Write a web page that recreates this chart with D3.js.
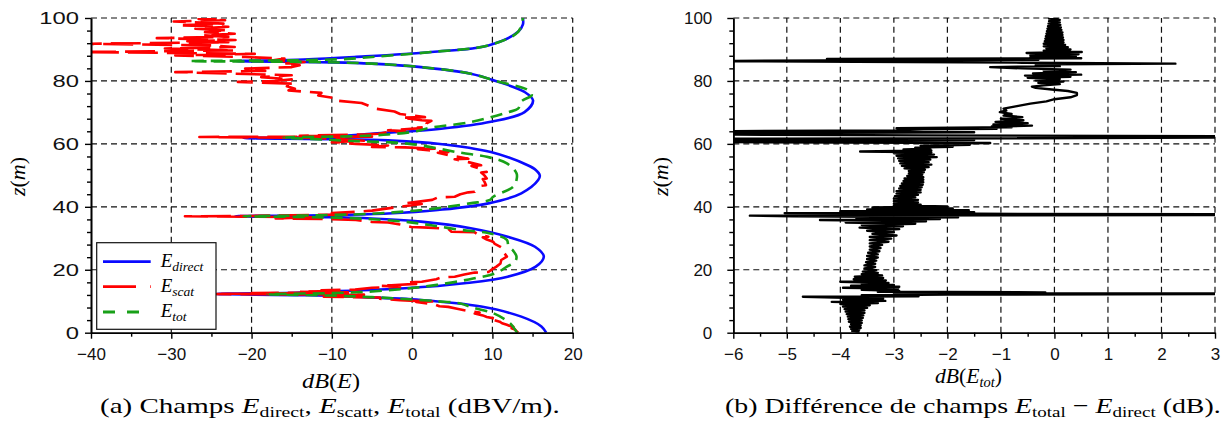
<!DOCTYPE html>
<html><head><meta charset="utf-8">
<script src="https://cdn.jsdelivr.net/npm/d3@7"></script>
<style>body{margin:0;background:#fff;} svg{display:block}</style>
</head><body>
<svg id="c" width="1231" height="425"></svg>
<script>
// ---------- data ----------
const zTicks = [0, 20, 40, 60, 80, 100];
const zMinor = [4, 8, 12, 16, 24, 28, 32, 36, 44, 48, 52, 56, 64, 68, 72, 76, 84, 88, 92, 96];
const leftXTicks = [-40, -30, -20, -10, 0, 10, 20];
const leftXMinor = [-35, -25, -15, -5, 5, 15];
const rightXTicks = [-6, -5, -4, -3, -2, -1, 0, 1, 2, 3];
const rightXMinor = [-5.5, -4.5, -3.5, -2.5, -1.5, -0.5, 0.5, 1.5, 2.5];
const seriesNames = ["E_direct", "E_scat", "E_tot"];

// [z (m), dB]
const eDirect = [[0,16.7],[2,16.1],[5.1,13.6],[8.3,8.6],[10.4,1.1],[11.4,-7.2],[11.9,-13],[12.3,-24.4],[12.7,-14.5],[13.0,-11.3],[14.1,-0.9],[15.7,6.5],[17.8,11.9],[21,15.4],[24.2,16.4],[27.3,15.3],[30.5,11.9],[33.2,7.3],[35.3,1.1],[36.3,-5.1],[36.7,-11],[37.0,-22],[37.4,-10],[37.9,-3],[39,3.2],[41.1,9.5],[44.3,13.6],[48.5,15.7],[50,15.9],[51.7,15.4],[53.2,14.4],[57.4,9.8],[60.06,3.2],[61.1,-3],[61.5,-9],[61.85,-21],[62.2,-12],[63.2,-5.1],[64.8,3.6],[67,9.8],[70.1,14.0],[73.8,15.06],[76.5,14.0],[80,10.4],[82.3,7.3],[84.4,1.1],[85.5,-5.1],[85.9,-10],[86.3,-22],[86.8,-13.5],[87.6,-7.2],[89.2,2.4],[91.3,9.5],[95.6,13.2],[98,13.8],[100,13.8]];

const eScat = [[0,13.2],[0.5,13.0],[1.0,12.8],[1.4,12.4],[1.9,12.6],[2.2,12.1],[2.5,11.8],[3.0,11.2],[3.5,10.9],[4.0,10.2],[4.3,10.7],[5.0,9.3],[5.5,8.8],[6.1,7.8],[6.4,8.4],[7.0,6.8],[7.6,5.6],[8.2,4.5],[8.4,3.4],[9.0,2.8],[9.8,0.5],[9.9,2.5],[10.3,-1.5],[10.8,-4],[11.2,-4],[11.4,-11],[11.6,-6],[11.9,-11],[12.1,-6],[12.2,-18],[12.35,-28],[12.5,-12],[12.6,-20],[12.8,-8],[13.0,-14],[13.3,-9],[13.5,-11.3],[13.7,-7.1],[14.3,-5],[14.6,-1.5],[14.9,-4],[15.5,0.5],[16.0,-0.5],[16.2,1.2],[17.0,3],[17.6,3.7],[17.8,5.3],[18.5,6.5],[19.1,7.8],[19.3,9.5],[20.2,10],[21,10.5],[22,11],[23.1,11.1],[24.2,11.8],[25.2,11.5],[26.3,11.6],[27.3,11.0],[28.2,10.3],[28.9,10.1],[29.6,9.3],[30.3,8.8],[30.5,9.5],[31.2,8.2],[31.9,7.8],[32.1,4.9],[33.0,4.5],[33.4,2.0],[33.6,-0.1],[34.4,-1.5],[35.0,-3],[35.2,-5],[35.8,-7],[36.1,-10.5],[36.3,-17],[36.7,-12],[37.0,-28.3],[37.1,-20],[37.3,-15],[37.6,-8],[38.0,-10],[38.4,-7],[38.8,-5],[39.5,-3],[40.2,-1],[40.9,1.2],[41.1,-0.9],[42.2,2.5],[43.0,3.2],[43.2,5.3],[44.0,6],[44.6,7],[44.8,7.8],[45.8,8.2],[46.7,8.6],[46.9,9.2],[48,9.0],[48.8,8.8],[49,9.3],[50,9.0],[50.9,8.6],[51.1,9.3],[52.2,8.3],[53.0,7.4],[53.2,8.6],[54.2,7.0],[55.1,5.3],[55.3,7],[56.3,4.8],[57.2,3.2],[57.4,4.5],[58.0,2.0],[58.3,0.7],[58.5,2.8],[58.9,-0.9],[59.0,-5],[59.5,-3],[60.0,-7],[60.5,-10],[61.0,-6],[61.5,-9],[61.9,-12],[62.2,-26.5],[62.3,-5],[62.6,-14],[63.0,-5.9],[63.2,-4.2],[63.8,-3],[64.1,-0.9],[64.3,-3],[65.0,1.2],[65.2,0.7],[65.4,2],[66.5,1.8],[67.3,2.4],[67.5,1.2],[68.3,-1.3],[68.5,1.6],[69.5,-1.5],[70.3,-2.2],[71.2,-4.6],[72.2,-5.5],[73.0,-6.3],[73.8,-9.6],[74.5,-9.6],[75.4,-11.7],[76.2,-11.3],[77,-15.4],[77.5,-14.6],[78.3,-15.6],[79.1,-14.6],[79.7,-21.7],[80.0,-17.1],[80.5,-15],[81.2,-18.8],[81.8,-15.0],[82.3,-22],[82.8,-29.5],[83.2,-18.3],[83.9,-20.8],[84.4,-15],[85.0,-14],[85.5,-16],[86.0,-13.4],[86.5,-17.5],[87.1,-15.9],[87.6,-20.8],[88.1,-29.5],[88.6,-19.6],[89.2,-41],[89.4,-32.4],[89.7,-22.1],[90.3,-30.8],[90.8,-22.1],[91.3,-25],[91.8,-41],[92.0,-33],[92.3,-22.9],[92.6,-28],[93.0,-22],[93.6,-31.8],[94.0,-22.9],[94.5,-26],[95.0,-22.1],[95.5,-25.8],[96.1,-23],[96.6,-27],[97.2,-22.9],[97.7,-29.1],[98.2,-23.5],[98.9,-29.7],[99.3,-23.3],[99.7,-26.6],[100,-24]];

const eTot = [[0,13.1],[0.3,13.0],[3.0,12.2],[6.2,10.1],[8.0,7.5],[9.3,6.0],[10.0,3.1],[10.7,-1],[11.3,-5],[11.8,-10],[12.2,-18],[12.6,-10],[13.1,-5],[14.0,-0.7],[15.2,3.1],[17.2,7.6],[19.0,10.5],[21,11.8],[22.5,12.8],[24.2,13.0],[26,12.6],[27.5,12.0],[29.5,11.8],[31.6,9.6],[32.7,6.0],[34.2,2.2],[35.3,-1],[36.2,-6],[36.7,-12],[37.0,-21],[37.3,-12],[37.8,-5],[38.5,-1],[39.5,3],[41.1,7.2],[42.2,9.7],[43.2,10.1],[46.4,12.6],[48.5,13.0],[50.7,13.0],[53.8,11.8],[55.9,9.3],[57.2,6.0],[60.0,-0.3],[61.0,-8],[61.5,-12],[62.0,-16],[62.4,-8],[63.0,-3],[64.0,0.5],[65,2.0],[67,7.4],[70.1,12.0],[71.2,13.2],[73.5,13.6],[75.5,14.9],[77,14.5],[80,10.4],[82.3,7.3],[84.4,1.1],[85.5,-5],[86.0,-12],[86.3,-27.7],[86.6,-14],[87.0,-8],[87.6,-5],[89.2,2.4],[91.3,9.5],[95.6,13.2],[100,13.8]];

const diffTot = [[0.0,-3.72],[0.3,-3.66],[0.6,-3.78],[0.9,-3.65],[1.2,-3.8],[1.5,-3.62],[1.9,-3.82],[2.3,-3.62],[2.7,-3.8],[3.1,-3.6],[3.5,-3.84],[3.9,-3.6],[4.3,-3.85],[4.7,-3.58],[5.1,-3.86],[5.5,-3.57],[5.9,-3.88],[6.3,-3.55],[6.7,-3.9],[7.1,-3.55],[7.5,-3.92],[7.9,-3.5],[8.3,-3.95],[8.7,-3.45],[9.1,-4.0],[9.4,-3.3],[9.8,-4.16],[10.1,-3.16],[10.5,-3.95],[10.8,-3.2],[11.1,-3.9],[11.4,-4.7],[11.6,-2.54],[11.9,-3.6],[12.1,-2.0],[12.3,3.4],[12.5,3.4],[12.6,-3.0],[12.8,-0.17],[13.0,-3.3],[13.3,-2.9],[13.6,-3.6],[14.0,-2.92],[14.3,-3.95],[14.6,-2.9],[14.9,-3.8],[15.2,-3.0],[15.5,-3.6],[15.8,-3.1],[16.2,-4.0],[16.6,-3.15],[17.0,-3.75],[17.4,-3.2],[17.8,-3.73],[18.2,-3.22],[18.6,-3.6],[19.0,-3.3],[19.4,-3.58],[19.9,-3.33],[20.4,-3.55],[20.9,-3.35],[21.4,-3.55],[21.9,-3.35],[22.4,-3.52],[22.9,-3.33],[23.4,-3.5],[23.9,-3.3],[24.4,-3.5],[24.9,-3.3],[25.4,-3.48],[25.9,-3.27],[26.4,-3.45],[26.9,-3.25],[27.4,-3.45],[27.9,-3.22],[28.4,-3.45],[28.9,-3.1],[29.4,-3.45],[29.9,-3.05],[30.4,-3.45],[30.9,-2.95],[31.4,-3.4],[31.9,-3.0],[32.4,-3.5],[32.9,-2.9],[33.4,-3.64],[33.8,-2.83],[34.2,-3.6],[34.6,-2.6],[35.0,-3.9],[35.4,-2.4],[35.8,-4.38],[36.1,-2.14],[36.4,-3.7],[36.7,-1.8],[37.0,-4.9],[37.2,-5.69],[37.4,3.4],[37.6,3.4],[37.8,-1.45],[38.0,-5.04],[38.3,-1.5],[38.6,-4.0],[38.9,-1.6],[39.2,-3.5],[39.5,-1.9],[39.8,-3.4],[40.1,-2.0],[40.4,-3.0],[40.7,-2.5],[41.0,-3.0],[41.4,-2.55],[41.8,-3.0],[42.2,-2.55],[42.6,-3.0],[43.0,-2.6],[43.4,-2.98],[43.8,-2.55],[44.2,-2.95],[44.6,-2.5],[45.0,-2.95],[45.4,-2.5],[45.8,-2.9],[46.2,-2.48],[46.6,-2.88],[47.0,-2.46],[47.4,-2.85],[47.8,-2.45],[48.2,-2.82],[48.6,-2.45],[49.0,-2.8],[49.4,-2.45],[49.8,-2.75],[50.2,-2.47],[50.6,-2.72],[51.0,-2.44],[51.4,-2.72],[51.8,-2.42],[52.2,-2.8],[52.6,-2.35],[53.0,-2.85],[53.4,-2.3],[53.8,-2.88],[54.2,-2.35],[54.6,-2.9],[55.0,-2.32],[55.4,-2.92],[55.8,-2.2],[56.2,-2.95],[56.6,-2.25],[57.0,-3.0],[57.3,-2.3],[57.6,-3.63],[57.9,-2.3],[58.2,-2.82],[58.5,-2.32],[58.8,-2.6],[59.1,-1.9],[59.4,-2.5],[59.7,-1.58],[60.0,-2.3],[60.3,-1.2],[60.6,-6.5],[60.9,-6.5],[61.2,-1.5],[61.6,-6.5],[61.8,-0.5],[62.0,3.4],[62.4,3.4],[62.7,-2.5],[63.0,-6.5],[63.4,-6.5],[63.7,-1.5],[64.0,-6.5],[64.3,-2.95],[64.6,-2.45],[64.8,-1.08],[65.0,-2.95],[65.3,-0.8],[65.5,-1.17],[65.8,-0.42],[66.2,-1.14],[66.6,-0.5],[67.0,-1.1],[67.5,-0.58],[68.0,-1.0],[68.5,-0.6],[69.0,-0.95],[69.5,-0.8],[70.1,-1.02],[70.6,-0.9],[71.2,-0.95],[72.0,-0.7],[72.8,-0.45],[73.5,-0.15],[74.2,0.0],[74.8,0.3],[75.5,0.42],[76.2,0.42],[76.8,0.25],[77.3,-0.05],[77.8,-0.35],[78.2,-0.42],[78.6,-0.2],[79.0,0.1],[79.4,-0.3],[79.8,0.17],[80.2,-0.35],[80.6,0.1],[81.0,-0.5],[81.3,0.3],[81.7,-0.55],[82.0,0.5],[82.4,-0.4],[82.8,0.4],[83.2,-0.2],[83.6,0.3],[84.0,-0.6],[84.4,-1.2],[84.7,0.1],[85.0,-0.35],[85.3,0.0],[85.5,2.26],[85.8,-0.6],[86.1,-3.7],[86.3,-6.5],[86.5,-4.3],[86.7,-0.3],[87.0,-4.25],[87.2,0.5],[87.5,-0.45],[87.8,0.4],[88.1,-0.45],[88.5,0.45],[88.9,-0.52],[89.2,0.51],[89.6,-0.2],[90.0,0.3],[90.3,-0.15],[90.7,0.25],[91.0,-0.2],[91.4,0.2],[91.8,-0.2],[92.2,0.17],[92.6,-0.18],[93.0,0.17],[93.4,-0.17],[93.8,0.16],[94.2,-0.16],[94.6,0.15],[95.0,-0.15],[95.4,0.15],[95.8,-0.14],[96.2,0.13],[96.6,-0.13],[97.0,0.12],[97.4,-0.12],[97.8,0.11],[98.2,-0.11],[98.6,0.1],[99.0,-0.1],[99.4,0.1],[99.8,-0.1],[100,0.08]];

// ---------- drawing ----------
const svg = d3.select("#c");
const TICK_FONT = "'Liberation Sans', Arial, sans-serif";
const SERIF = "'Liberation Serif', 'DejaVu Serif', serif";

// horizontally fit a text element between x0 and x1 (keeps its baseline)
function fitX(t, x0, x1) {
  const bb = t.node().getBBox();
  const sx = (x1 - x0) / bb.width;
  t.attr("transform", `translate(${x0},0) scale(${sx},1) translate(${-bb.x},0)`);
}

function panel(opts) {
  const x = d3.scaleLinear().domain(opts.xDomain).range(opts.xRange);
  const y = d3.scaleLinear().domain([0, 100]).range([332.7, 18]);
  const g = svg.append("g");
  const clipId = "clip" + opts.id;
  svg.append("clipPath").attr("id", clipId).append("rect")
    .attr("x", opts.xRange[0]).attr("y", 18)
    .attr("width", opts.xRange[1] - opts.xRange[0]).attr("height", 332.7 - 18);

  // grid
  const grid = g.append("g").attr("stroke", "#111").attr("stroke-width", 1.2).attr("stroke-dasharray", "6,4");
  opts.xTicks.slice(1).forEach(t => grid.append("line")
    .attr("x1", x(t)).attr("x2", x(t)).attr("y1", y(0)).attr("y2", y(100)));
  zTicks.slice(1).forEach(t => grid.append("line")
    .attr("x1", x(opts.xDomain[0])).attr("x2", x(opts.xDomain[1])).attr("y1", y(t)).attr("y2", y(t)));

  // series
  const lg = g.append("g").attr("clip-path", `url(#${clipId})`).attr("fill", "none");
  opts.series.forEach(s => {
    const line = d3.line().x(d => x(d[1])).y(d => y(d[0])).curve(s.curve || d3.curveLinear);
    lg.append("path").datum(s.data).attr("d", line)
      .attr("stroke", s.color).attr("stroke-width", s.width)
      .attr("stroke-dasharray", s.dash || null)
      .attr("stroke-linejoin", "round");
  });

  // axes
  const xAxis = d3.axisBottom(x).tickValues(opts.xTicks).tickSize(6).tickSizeOuter(0).tickPadding(9)
    .tickFormat(d3.format("d"));
  const xMinorAxis = d3.axisBottom(x).tickValues(opts.xMinor).tickSize(4).tickSizeOuter(0).tickFormat("");
  const yAxis = d3.axisLeft(y).tickValues(zTicks).tickSize(6).tickSizeOuter(0).tickPadding(opts.yPad)
    .tickFormat(d3.format("d"));
  const yMinorAxis = d3.axisLeft(y).tickValues(zMinor).tickSize(4).tickSizeOuter(0).tickFormat("");
  [xMinorAxis, xAxis].forEach(a => {
    const ag = g.append("g").attr("transform", `translate(0,${y(0)})`).call(a);
    ag.select(".domain").attr("stroke-width", 1.6);
    ag.selectAll(".tick line").attr("stroke-width", 1.4);
    ag.selectAll("text").attr("font-family", TICK_FONT).attr("font-size", 17).attr("fill", "#111");
  });
  [yMinorAxis, yAxis].forEach(a => {
    const ag = g.append("g").attr("transform", `translate(${x(opts.xDomain[0])},0)`).call(a);
    ag.select(".domain").attr("stroke-width", 1.6);
    ag.selectAll(".tick line").attr("stroke-width", 1.4);
    ag.selectAll("text").attr("font-family", TICK_FONT).attr("font-size", 17).attr("fill", "#111");
    if (opts.yStretch) {
      ag.selectAll("text").each(function () {
        const t = d3.select(this);
        const xx = +t.attr("x");
        t.attr("x", 0).attr("transform", `translate(${xx},0) scale(${opts.yStretch},1)`);
      });
    }
  });

  // y label
  const yl = g.append("text").attr("transform", `translate(${opts.yLabelX},176.5) rotate(-90)`)
    .attr("text-anchor", "middle").attr("font-family", SERIF).attr("font-size", 22).attr("font-style", "italic");
  yl.append("tspan").text("z");
  yl.append("tspan").attr("font-style", "normal").text("(");
  yl.append("tspan").text("m");
  yl.append("tspan").attr("font-style", "normal").text(")");
  return { x, y, g };
}

const A = panel({
  id: "a", xDomain: [-40, 20], xRange: [91, 572.7], xTicks: leftXTicks, xMinor: leftXMinor, yPad: 6, yStretch: 1.4, yLabelX: 25,
  series: [
    { data: eDirect, color: "#0a0aff", width: 2.6, curve: d3.curveCatmullRom.alpha(0.5) },
    { data: eScat, color: "#ff0000", width: 2.6, dash: "30,9" },
    { data: eTot, color: "#18a018", width: 2.6, dash: "12,7", curve: d3.curveCatmullRom.alpha(0.5) }
  ]
});
const B = panel({
  id: "b", xDomain: [-6, 3], xRange: [733.3, 1215], xTicks: rightXTicks, xMinor: rightXMinor, yPad: 15, yLabelX: 668,
  series: [
    { data: diffTot, color: "#000", width: 2.4 }
  ]
});

// x labels
function xLabel(x0, x1, by, sub) {
  const t = svg.append("text").attr("x", 0).attr("y", by)
    .attr("font-family", SERIF).attr("font-size", 21).attr("font-style", "italic");
  t.append("tspan").text("dB");
  t.append("tspan").attr("font-style", "normal").text("(");
  t.append("tspan").text("E");
  if (sub) t.append("tspan").attr("font-size", 14).attr("dy", 4).text(sub);
  t.append("tspan").attr("font-style", "normal").attr("dy", sub ? -4 : 0).text(")");
  fitX(t, x0, x1);
}
xLabel(302, 360, 388, null);
xLabel(935, 1002, 383, "tot");

// legend
const lgd = svg.append("g");
lgd.append("rect").attr("x", 96.7).attr("y", 242.7).attr("width", 119.3).attr("height", 86.6)
  .attr("fill", "#fff").attr("stroke", "#111").attr("stroke-width", 1.2);
const legendStyles = [
  { color: "#0a0aff", dash: null, sub: "direct" },
  { color: "#ff0000", dash: "33,14", sub: "scat" },
  { color: "#18a018", dash: "12,12", sub: "tot" }
];
[261.7, 286.7, 312].forEach((ly, i) => {
  const s = legendStyles[i];
  lgd.append("line").attr("x1", 103).attr("x2", 150.7).attr("y1", ly).attr("y2", ly)
    .attr("stroke", s.color).attr("stroke-width", 2.8).attr("stroke-dasharray", s.dash);
  const t = lgd.append("text").attr("x", 160.7).attr("y", ly + 5).attr("font-family", SERIF)
    .attr("font-style", "italic").attr("font-size", 19);
  t.append("tspan").text("E");
  t.append("tspan").attr("font-size", 13.5).attr("dy", 4).text(s.sub);
});

// captions
function caption(x0, x1, parts) {
  const t = svg.append("text").attr("x", 0).attr("y", 413)
    .attr("font-family", SERIF).attr("font-size", 22);
  let down = false;
  parts.forEach(p => {
    if (p.E) {
      t.append("tspan").attr("font-style", "italic").attr("dy", down ? -4 : 0).text("E");
      t.append("tspan").attr("font-size", 15).attr("dy", 4).text(p.E);
      down = true;
    } else {
      t.append("tspan").attr("dy", down ? -4 : 0).text(p.t);
      down = false;
    }
  });
  fitX(t, x0, x1);
}
caption(100, 560, [{ t: "(a) Champs " }, { E: "direct" }, { t: ", " }, { E: "scatt" }, { t: ", " }, { E: "total" }, { t: " (dBV/m)." }]);
caption(725, 1221, [{ t: "(b) Différence de champs " }, { E: "total" }, { t: " − " }, { E: "direct" }, { t: " (dB)." }]);
</script>
</body></html>
